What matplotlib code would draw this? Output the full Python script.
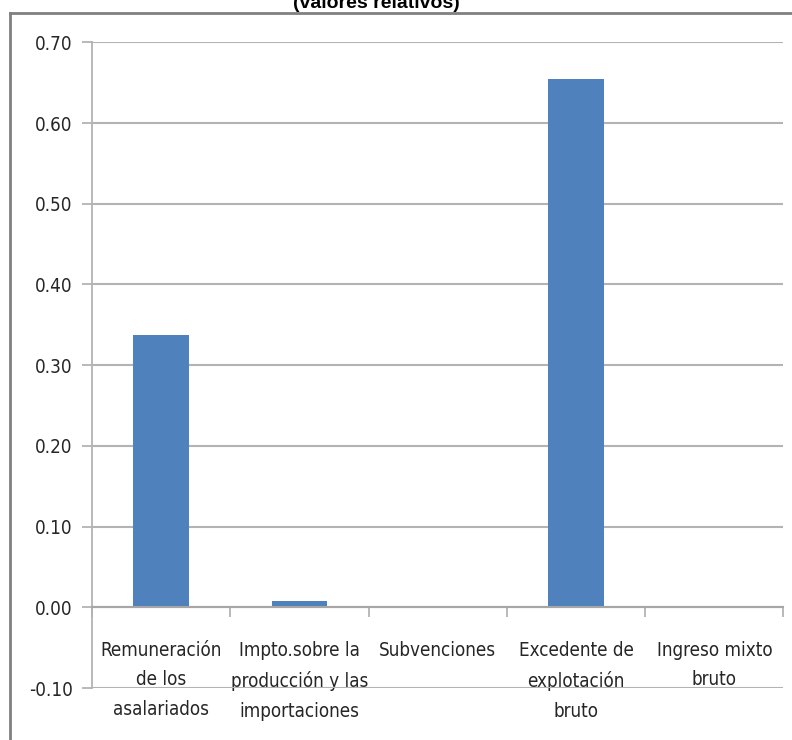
import numpy as np
import matplotlib.pyplot as plt
from matplotlib.lines import Line2D

categories = [
    "Remuneración\nde los\nasalariados",
    "Impto.sobre la\nproducción y las\nimportaciones",
    "Subvenciones",
    "Excedente de\nexplotación\nbruto",
    "Ingreso mixto\nbruto",
]
values = [0.337, 0.008, 0.0, 0.655, 0.0]
y_ticks = [-0.10, 0.00, 0.10, 0.20, 0.30, 0.40, 0.50, 0.60, 0.70]
title = "(valores relativos)"

NARROW = dict(family=["DejaVu Sans"], stretch="condensed")
GRID = "#b3b3b3"
TEXT = "#262626"


def main():
    fig = plt.figure(figsize=(7.92, 7.4), dpi=100)
    W, H = 792, 740
    ax = fig.add_axes([92 / W, 1 - 688 / H, (783.5 - 92) / W, (688 - 42.3) / H])

    x = np.arange(len(categories))
    ax.bar(x, values, width=0.4, color="#4f81bd", zorder=3)

    ax.set_xlim(-0.5, len(categories) - 0.5)
    ax.set_ylim(-0.10, 0.70)
    ax.set_yticks(y_ticks)
    ax.set_yticklabels([f"{v:.2f}" for v in y_ticks], fontsize=13.5,
                       color=TEXT, **NARROW)
    ax.tick_params(axis="y", length=7, width=1.3, color=GRID, pad=7)
    ax.yaxis.grid(True, color=GRID, linewidth=1.5, zorder=0)

    # category boundaries as ticks on the zero line, labels at centres
    ax.spines["bottom"].set_position(("data", 0))
    ax.spines["bottom"].set_color("#a6a6a6")
    ax.spines["bottom"].set_linewidth(1.5)
    ax.spines["bottom"].set_zorder(4)
    ax.spines["left"].set_color(GRID)
    ax.spines["left"].set_linewidth(1.3)
    for side in ("top", "right"):
        ax.spines[side].set_visible(False)
    ax.set_xticks(np.arange(len(categories) + 1) - 0.5)
    ax.set_xticklabels([])
    ax.tick_params(axis="x", which="major", length=7, width=1.3,
                   color=GRID, direction="out")
    ax.set_xticks(x, minor=True)
    ax.set_xticklabels(categories, minor=True, fontsize=13.5, color=TEXT,
                       linespacing=1.72, va="top", **NARROW)
    ax.tick_params(axis="x", which="minor", length=0, pad=24)

    # outer chart frame (partially cropped)
    fig.add_artist(Line2D([10 / W, 10 / W], [0, 1 - 13 / H],
                          transform=fig.transFigure, color="#808080", lw=2))
    fig.add_artist(Line2D([10 / W, 1], [1 - 13 / H, 1 - 13 / H],
                          transform=fig.transFigure, color="#808080", lw=2))

    fig.text(376 / W, 1 - 8 / H, title, ha="center", va="baseline",
             family=["Liberation Sans", "DejaVu Sans"], fontweight="bold",
             fontsize=14, color="#000000")

    fig.savefig("out.png", dpi=100)


if __name__ == "__main__":
    main()
